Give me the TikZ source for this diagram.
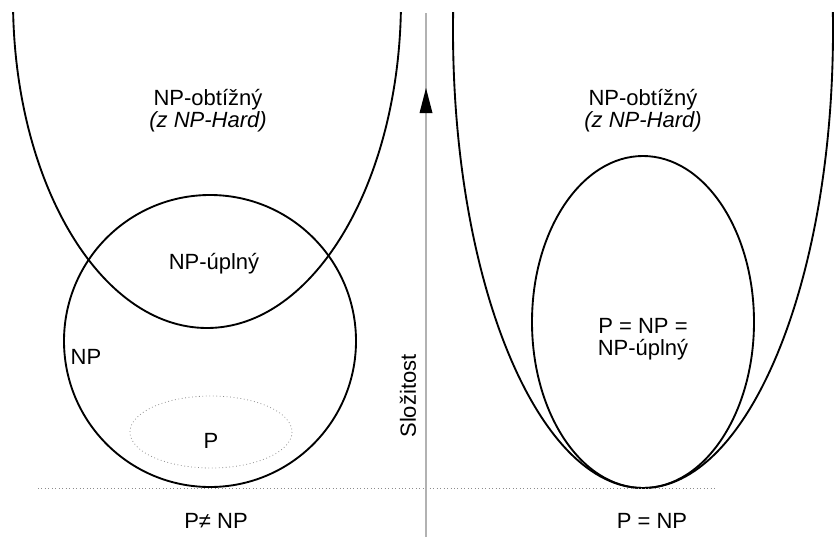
\documentclass[tikz,border=0pt]{standalone}
\usepackage{fontspec}
\setmainfont{Liberation Sans}
\begin{document}
\begin{tikzpicture}[x=0.75pt,y=-0.75pt,
  curve/.style={draw=black,line width=1.4pt},
  lbl/.style={font=\fontsize{16.5pt}{16.5pt}\selectfont,inner sep=0pt,align=center,anchor=base},
  axisline/.style={draw=black!30,line width=1.1pt},
  dotline/.style={draw=black!45,line width=0.6pt,dotted}]
\useasboundingbox (0,0) rectangle (835,539);
% U shapes (clipped at top)
\begin{scope}
  \clip (0,12) rectangle (835,539);
  \draw[curve] (207,0) ellipse [x radius=194, y radius=328];
  \draw[curve] (643,30) ellipse [x radius=190, y radius=458];
\end{scope}
% NP circle
\draw[curve] (210,341) circle [radius=146];
% P dotted ellipse
\draw[dotline] (211,432) ellipse [x radius=81, y radius=36];
% right inner ellipse
\draw[curve] (643,322) ellipse [x radius=111, y radius=166];
% baseline
\coordinate (bl) at (38,488);
\coordinate (br) at (715,488);
\draw[dotline] (bl) -- (br);
% axis
\coordinate (axbot) at (426,537);
\coordinate (axtop) at (426,13);
\draw[axisline] (axbot) -- (axtop);
\fill[black] (419.5,113) -- (432.5,113) -- (426,88) -- cycle;
% labels
\node[lbl] (hardL) at (208,127) {NP-obtížný\\\textit{(z NP-Hard)}};
\node[lbl] (hardR) at (643,127) {NP-obtížný\\\textit{(z NP-Hard)}};
\node[lbl] (npcL) at (214,269) {NP-úplný};
\node[lbl] (np) at (86,364) {NP};
\node[lbl] (p) at (211,448) {P};
\node[lbl] (eqR) at (643,355) {P = NP =\\NP-úplný};
\node[lbl] (neq) at (216,528) {P≠ NP};
\node[lbl] (eq) at (652,528) {P = NP};
\node[lbl,anchor=center,rotate=90] (axlbl) at (408,396) {Složitost};
\end{tikzpicture}
\end{document}
